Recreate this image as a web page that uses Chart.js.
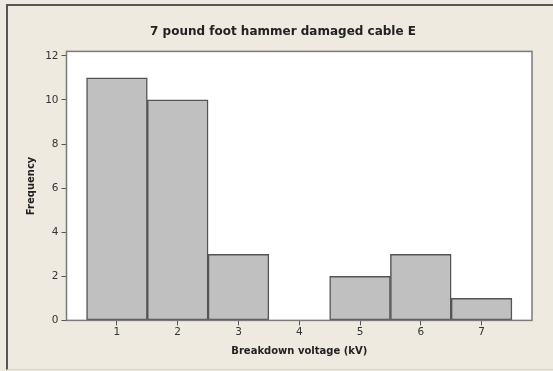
<!DOCTYPE html>
<html>
<head>
<meta charset="utf-8">
<script src="https://cdn.jsdelivr.net/npm/chart.js@4"></script>
<style>
  html, body { margin: 0; padding: 0; }
  body { width: 553px; height: 371px; background: #eeeae0; position: relative; overflow: hidden; }
  .frame {
    position: absolute; left: 6px; top: 4px; right: 0; bottom: 1px;
    border-left: 2px solid #555; border-top: 2px solid #555;
    border-bottom: 1px solid #d8d4ca;
  }
  .wrap { position: absolute; left: 13px; top: 0; width: 540px; height: 371px; }
</style>
</head>
<body>
<div class="frame"></div>
<div class="wrap"><canvas id="histChart"></canvas></div>
<script>
const voltages = [1, 2, 3, 4, 5, 6, 7];
const frequency = [11, 10, 3, 0, 2, 3, 1];
const yTicks = [0, 2, 4, 6, 8, 10, 12];

const fontFamily = "'DejaVu Sans', Verdana, sans-serif";

// white plot panel with a grey outline
const panel = {
  id: "panel",
  beforeDraw(chart) {
    const { ctx, chartArea: a } = chart;
    ctx.save();
    ctx.fillStyle = "#ffffff";
    ctx.fillRect(a.left, a.top, a.right - a.left, a.bottom - a.top);
    ctx.restore();
  },
  afterDatasetsDraw(chart) {
    const { ctx, chartArea: a } = chart;
    ctx.save();
    ctx.strokeStyle = "#7a7a7a";
    ctx.lineWidth = 1.5;
    ctx.strokeRect(a.left, a.top, a.right - a.left, a.bottom - a.top);
    ctx.restore();
  },
};

const ctx = document.getElementById("histChart").getContext("2d");
const histChart = new Chart(ctx, {
  type: "bar",
  data: {
    datasets: [
      {
        label: "Frequency",
        data: voltages.map((v, i) => ({ x: v, y: frequency[i] })),
        backgroundColor: "#c0c0c0",
        borderColor: "#555555",
        borderWidth: 1.5,
        borderSkipped: false,
        barPercentage: 1,
        categoryPercentage: 1,
      },
    ],
  },
  options: {
    responsive: true,
    maintainAspectRatio: false,
    animation: false,
    layout: {
      padding: { left: 21, right: 21, top: 0, bottom: 14 },
    },
    scales: {
      x: {
        type: "linear",
        min: 0.17,
        max: 7.83,
        offset: false,
        afterBuildTicks: (axis) => {
          axis.ticks = voltages.map((v) => ({ value: v }));
        },
        border: { display: false },
        grid: {
          offset: false,
          drawOnChartArea: false,
          tickLength: 5,
          color: "#555",
        },
        ticks: {
          padding: 1,
          color: "#333",
          font: { family: fontFamily, size: 10.5 },
          maxRotation: 0,
        },
        title: {
          display: true,
          text: "Breakdown voltage (kV)",
          color: "#222",
          font: { family: fontFamily, size: 10, weight: "bold" },
          padding: { top: 5, bottom: 0 },
        },
      },
      y: {
        min: 0,
        max: 12.2,
        afterBuildTicks: (axis) => {
          axis.ticks = yTicks.map((v) => ({ value: v }));
        },
        afterFit: (axis) => {
          axis.width = 32.5;
        },
        border: { display: false },
        grid: {
          drawOnChartArea: false,
          tickLength: 5,
          color: "#555",
        },
        ticks: {
          padding: 3,
          color: "#333",
          font: { family: fontFamily, size: 10.5 },
        },
        title: {
          display: true,
          text: "Frequency",
          color: "#222",
          font: { family: fontFamily, size: 10, weight: "bold" },
          padding: { top: -9, bottom: 0 },
        },
      },
    },
    plugins: {
      legend: { display: false },
      tooltip: { enabled: false },
      title: {
        display: true,
        text: "7 pound foot hammer damaged cable E",
        color: "#222",
        font: { family: fontFamily, size: 12, weight: "bold" },
        padding: { top: 25, bottom: 12 },
      },
    },
  },
  plugins: [panel],
});
</script>
</body>
</html>
